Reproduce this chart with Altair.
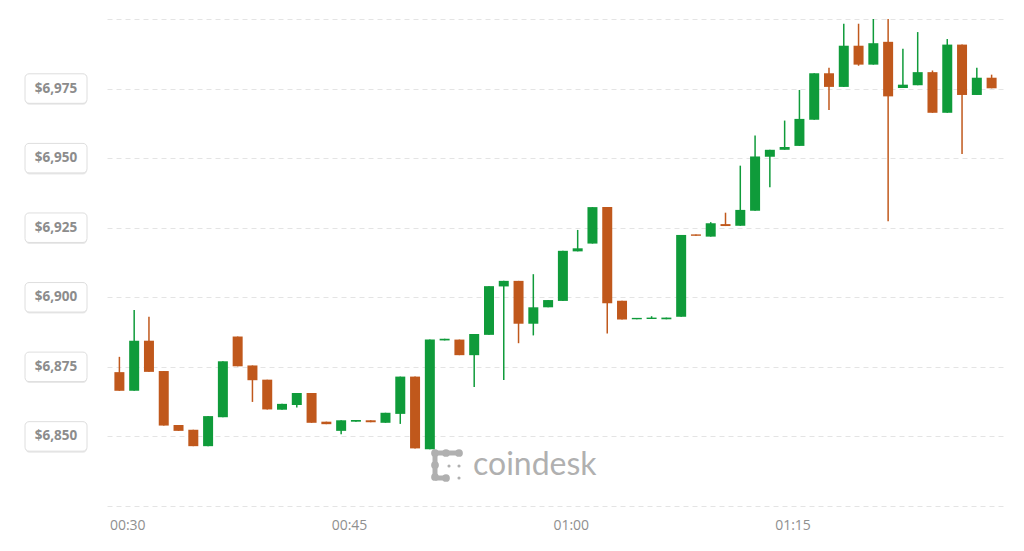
import altair as alt
import pandas as pd

# 1-minute candles from 00:30 to 01:29
start = "2018-10-10 00:30"
opens = [6873.1, 6866.4, 6884.4, 6873.5, 6854.1, 6852.4, 6846.5, 6856.9, 6885.9, 6875.5,
         6870.4, 6859.6, 6861.3, 6865.6, 6855.3, 6852.0, 6855.3, 6855.8, 6854.9, 6858.1,
         6871.5, 6845.4, 6884.5, 6884.8, 6879.2, 6886.5, 6903.9, 6905.9, 6890.5, 6896.4,
         6898.7, 6916.5, 6919.3, 6932.4, 6898.8, 6892.1, 6892.2, 6892.1, 6893.0, 6922.6,
         6921.8, 6926.3, 6925.7, 6931.1, 6950.5, 6953.0, 6954.4, 6963.8, 6980.5, 6975.6,
         6990.4, 6983.6, 6991.8, 6975.2, 6976.2, 6980.9, 6966.3, 6990.8, 6972.7, 6978.9]
closes = [6866.4, 6884.4, 6873.2, 6853.9, 6852.0, 6846.5, 6857.3, 6877.0, 6875.2, 6870.2,
          6859.7, 6861.7, 6865.6, 6854.9, 6854.4, 6855.8, 6855.9, 6855.1, 6858.5, 6871.5,
          6845.7, 6884.8, 6885.1, 6879.2, 6886.8, 6904.0, 6905.9, 6890.5, 6896.4, 6899.0,
          6916.7, 6917.6, 6932.4, 6897.9, 6892.0, 6892.6, 6892.7, 6892.7, 6922.4, 6922.1,
          6926.6, 6925.6, 6931.4, 6950.6, 6953.0, 6954.0, 6964.1, 6980.5, 6975.6, 6990.4,
          6983.6, 6991.3, 6972.2, 6976.4, 6980.9, 6966.3, 6990.8, 6972.7, 6978.9, 6975.1]
highs = [6878.6, 6895.4, 6893.0, 6873.5, 6854.1, 6852.4, 6857.3, 6877.0, 6885.9, 6875.5,
         6870.4, 6861.7, 6865.6, 6865.6, 6855.3, 6855.8, 6855.9, 6855.8, 6858.5, 6871.5,
         6871.5, 6884.8, 6885.1, 6884.8, 6886.8, 6904.0, 6905.9, 6905.9, 6908.3, 6899.0,
         6916.7, 6924.2, 6932.4, 6932.4, 6898.8, 6892.6, 6893.2, 6892.7, 6922.4, 6922.6,
         6927.0, 6930.4, 6947.3, 6958.1, 6953.0, 6963.5, 6974.5, 6980.5, 6982.5, 6998.3,
         6998.3, 7000.0, 7000.0, 6989.3, 6995.3, 6981.5, 6992.8, 6990.8, 6982.5, 6980.0]
lows = [6866.4, 6866.4, 6873.2, 6853.9, 6852.0, 6846.5, 6846.5, 6856.9, 6875.2, 6862.4,
        6859.7, 6859.6, 6860.4, 6854.9, 6854.4, 6850.8, 6855.3, 6855.1, 6854.9, 6854.5,
        6845.7, 6845.4, 6884.5, 6879.2, 6867.8, 6886.5, 6870.3, 6883.5, 6886.3, 6896.4,
        6898.7, 6916.5, 6919.3, 6887.0, 6892.0, 6892.1, 6892.2, 6892.1, 6893.0, 6922.1,
        6921.8, 6925.6, 6925.7, 6931.1, 6939.5, 6953.0, 6954.4, 6963.8, 6967.3, 6975.6,
        6983.2, 6983.6, 6927.3, 6975.2, 6976.2, 6966.3, 6966.3, 6951.5, 6972.7, 6975.1]

grid_prices = [6825, 6850, 6875, 6900, 6925, 6950, 6975, 7000]
label_prices = [6850, 6875, 6900, 6925, 6950, 6975]
tick_minutes = [(0, 30), (0, 45), (1, 0), (1, 15)]

GREEN = "#0f9b3a"
ORANGE = "#c0581c"
MARK_GREY = "#b0b0b0"

times = pd.date_range(start, periods=len(opens), freq="1min").strftime("%Y-%m-%dT%H:%M:%SZ")
df = pd.DataFrame({"time": times, "open": opens, "close": closes, "high": highs, "low": lows})
df["dir"] = ["up" if c >= o else "down" for o, c in zip(opens, closes)]

labels_df = pd.DataFrame({"price": label_prices,
                          "label": ["$" + format(p, ",") for p in label_prices]})


def dt(h, m, s=0):
    return alt.DateTime(year=2018, month=10, date=10, hours=h, minutes=m, seconds=s, utc=True)


yscale = alt.Scale(domain=[6825, 7000], nice=False, zero=False)
xscale = alt.Scale(type="utc", domain=[dt(0, 29, 30), dt(1, 29, 30)])

xaxis = alt.Axis(values=[dt(h, m) for h, m in tick_minutes],
                 labelExpr="utcFormat(datum.value, '%H:%M')",
                 grid=False, domain=False, ticks=False, title=None,
                 labelAlign="left", labelOffset=-10, labelPadding=12,
                 labelColor="#8f8f8f", labelFontSize=14, labelFont="Open Sans")
yaxis = alt.Axis(values=grid_prices, labels=False, ticks=False, domain=False, title=None,
                 grid=True, gridDash=[5, 4], gridColor="#e4e4e4", gridWidth=1)

base = alt.Chart(df).encode(
    x=alt.X("time:T", scale=xscale, axis=xaxis),
    color=alt.Color("dir:N", scale=alt.Scale(domain=["up", "down"], range=[GREEN, ORANGE]),
                    legend=None),
)
wicks = base.mark_rule(strokeWidth=1.5).encode(
    y=alt.Y("low:Q", scale=yscale, axis=yaxis), y2="high:Q")
bodies = base.mark_bar(width=10).encode(y="open:Q", y2="close:Q")

box_base = alt.Chart(labels_df).transform_calculate(
    lo="datum.price - 5.3", hi="datum.price + 5.3")
shadow = box_base.mark_rect(cornerRadius=4, fill="#e9e9e9", yOffset=1.5, xOffset=0.5).encode(
    x=alt.value(-82), x2=alt.value(-20), y="lo:Q", y2="hi:Q")
boxes = box_base.mark_rect(cornerRadius=4, fill="white", stroke="#dedede", strokeWidth=1).encode(
    x=alt.value(-82), x2=alt.value(-20), y="lo:Q", y2="hi:Q")
box_text = alt.Chart(labels_df).mark_text(
    align="center", baseline="middle", fontSize=13.5, fontWeight="bold",
    font="Open Sans", color="#8c8c8c").encode(
    x=alt.value(-51), y="price:Q", text="label:N")

# "coindesk" watermark (text + dotted logo)
wm_df = pd.DataFrame({"t": ["coindesk"]})
watermark = alt.Chart(wm_df).mark_text(
    align="left", baseline="middle", fontSize=32, font="Lato", color=MARK_GREY).encode(
    x=alt.value(366), y=alt.value(446), text="t:N")

logo_layers = []
for (x1, x2, y1, y2) in [(328, 352, 434, 434), (328, 328, 434, 458), (328, 339, 459, 459)]:
    logo_layers.append(alt.Chart(wm_df).mark_rule(strokeWidth=5, color=MARK_GREY).encode(
        x=alt.value(x1), x2=alt.value(x2), y=alt.value(y1), y2=alt.value(y2)))
for (cx, cy, s) in [(328, 434, 60), (339, 434, 60), (352, 434, 60), (328, 446, 60),
                    (328, 458, 60), (339, 459, 60), (342, 447, 10), (352, 447, 10), (352, 459, 10)]:
    logo_layers.append(alt.Chart(wm_df).mark_circle(size=s, opacity=1, color=MARK_GREY).encode(
        x=alt.value(cx), y=alt.value(cy)))

chart = alt.layer(shadow, boxes, box_text, watermark, *logo_layers, wicks, bodies).properties(
    width=897, height=487,
    padding={"left": 16, "top": 10, "right": 5, "bottom": 5},
).configure_view(stroke=None)

chart.save("out.html", embed_options={"renderer": "svg", "actions": False})
